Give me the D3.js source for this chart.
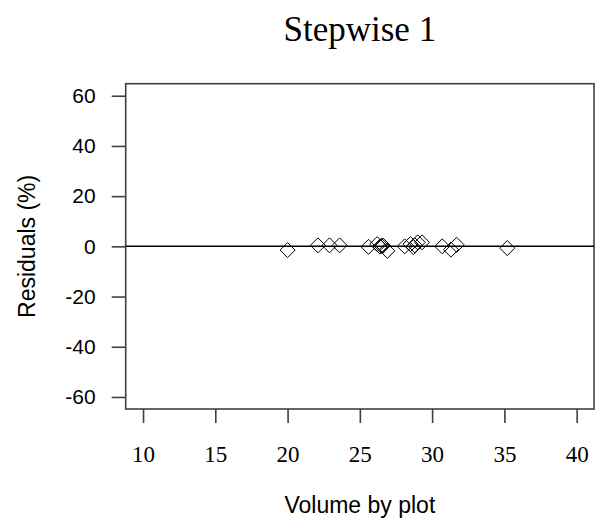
<!DOCTYPE html>
<html>
<head>
<meta charset="utf-8">
<script src="https://cdn.jsdelivr.net/npm/d3@7"></script>
<style>
  body { margin: 0; background: #fff; }
  svg { display: block; }
</style>
</head>
<body>
<div id="chart"></div>
<script>
// Residuals against volume by plot
var volume = [20.0, 22.1, 22.9, 23.6, 25.6, 26.2, 26.4, 26.5, 26.6, 26.9,
              28.1, 28.5, 28.7, 28.8, 29.0, 29.3, 30.7, 31.3, 31.7, 35.2];
var residual = [-1.5, 0.4, 0.4, 0.4, -0.2, 0.9, -0.1, 0.2, 0.3, -1.8,
                0.0, 0.9, -0.3, 0.4, 1.6, 1.6, 0.0, -1.3, 0.6, -0.7];
var xTicks = [10, 15, 20, 25, 30, 35, 40];
var yTicks = [-60, -40, -20, 0, 20, 40, 60];

var W = 597, H = 520;
var margin = {left: 125.7, right: 594, top: 83.7, bottom: 409};

var svg = d3.select("#chart").append("svg")
    .attr("width", W)
    .attr("height", H);

// R style: 4% padding round the limits
var x = d3.scaleLinear().domain([8.8, 41.2]).range([margin.left, margin.right]);
var y = d3.scaleLinear().domain([-64.8, 64.8]).range([margin.bottom, margin.top]);

var axisColor = "#404040";

// X axis
var xAxis = svg.append("g")
    .attr("transform", "translate(0," + margin.bottom + ")")
    .call(d3.axisBottom(x).tickValues(xTicks).tickFormat(String).tickSize(14).tickPadding(23));
xAxis.select(".domain").remove();
xAxis.selectAll("line").attr("stroke", axisColor).attr("stroke-width", 1.6);
xAxis.selectAll("text")
    .attr("font-family", "'Liberation Serif', 'DejaVu Serif', serif")
    .attr("font-size", "23px")
    .attr("fill", "#000");

// Y axis (plain hyphen for negatives, like R)
var yAxis = svg.append("g")
    .attr("transform", "translate(" + margin.left + ",0)")
    .call(d3.axisLeft(y).tickValues(yTicks).tickFormat(String).tickSize(14).tickPadding(16));
yAxis.select(".domain").remove();
yAxis.selectAll("line").attr("stroke", axisColor).attr("stroke-width", 1.6);
yAxis.selectAll("text")
    .attr("font-family", "'Liberation Sans', Arial, sans-serif")
    .attr("font-size", "21px")
    .attr("fill", "#000");

// Plot box
svg.append("rect")
    .attr("x", margin.left)
    .attr("y", margin.top)
    .attr("width", margin.right - margin.left)
    .attr("height", margin.bottom - margin.top)
    .attr("fill", "none")
    .attr("stroke", axisColor)
    .attr("stroke-width", 1.6);

// Zero line
svg.append("line")
    .attr("x1", margin.left)
    .attr("x2", margin.right)
    .attr("y1", y(0))
    .attr("y2", y(0))
    .attr("stroke", "#000")
    .attr("stroke-width", 1.5);

// Points as open diamonds
var pts = volume.map(function (v, i) { return {v: v, r: residual[i]}; });
var s = 7.5;
svg.append("g").selectAll("path")
    .data(pts)
    .enter().append("path")
    .attr("d", function (d) {
        var cx = x(d.v), cy = y(d.r);
        return "M" + cx + "," + (cy - s) + "L" + (cx + s) + "," + cy +
               "L" + cx + "," + (cy + s) + "L" + (cx - s) + "," + cy + "Z";
    })
    .attr("fill", "none")
    .attr("stroke", "#000")
    .attr("stroke-width", 1);

// Title
svg.append("text")
    .attr("x", (margin.left + margin.right) / 2)
    .attr("y", 41)
    .attr("text-anchor", "middle")
    .attr("font-family", "'Liberation Serif', 'DejaVu Serif', serif")
    .attr("font-size", "35px")
    .text("Stepwise 1");

// Axis titles
svg.append("text")
    .attr("x", (margin.left + margin.right) / 2)
    .attr("y", 513)
    .attr("text-anchor", "middle")
    .attr("font-family", "'Liberation Sans', Arial, sans-serif")
    .attr("font-size", "23px")
    .text("Volume by plot");

svg.append("text")
    .attr("transform", "translate(35," + ((margin.top + margin.bottom) / 2) + ") rotate(-90)")
    .attr("text-anchor", "middle")
    .attr("font-family", "'Liberation Sans', Arial, sans-serif")
    .attr("font-size", "23px")
    .text("Residuals (%)");
</script>
</body>
</html>
